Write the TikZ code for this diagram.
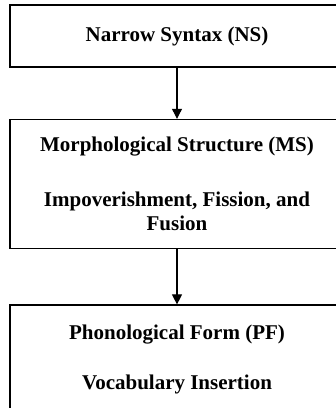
\documentclass[tikz,border=0pt]{standalone}
\usepackage{fontspec}
\setmainfont{Liberation Serif}
\usetikzlibrary{positioning,arrows.meta}

\begin{document}
\begin{tikzpicture}[x=1pt,y=1pt,>={Triangle[width=10pt,length=10pt]},
    stagebox/.style={draw,line width=1.6pt,minimum width=334pt,align=center,
      inner sep=0pt,font=\bfseries\fontsize{21}{24}\selectfont},
    flow/.style={->,line width=1.1pt}]
  % page frame, the boxes run past the right and bottom edges
  \useasboundingbox (0,0) rectangle (336,-408);
  \clip (0,0) rectangle (336,-408);
  \node[stagebox,minimum height=62pt] (ns) at (177,-36) {Narrow Syntax (NS)};
  \node[stagebox,minimum height=129pt,below=51pt of ns] (ms)
    {Morphological Structure (MS)\\[31pt]
     Impoverishment, Fission, and\\ Fusion};
  \node[stagebox,minimum height=108pt,below=55pt of ms] (pf)
    {Phonological Form (PF)\\[26pt] Vocabulary Insertion};
  \draw[flow] (ns) -- (ms);
  \draw[flow] (ms) -- (pf);
\end{tikzpicture}
\end{document}
